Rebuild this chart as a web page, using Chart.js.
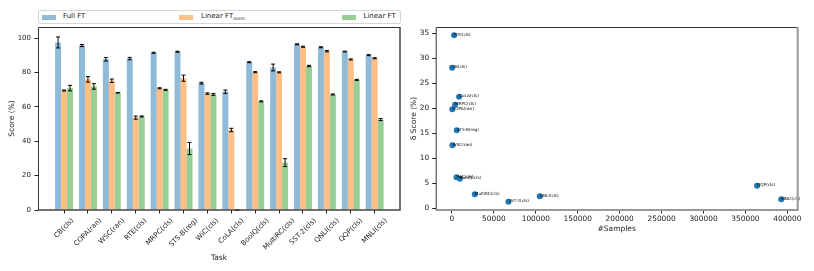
<!DOCTYPE html>
<html><head><meta charset="utf-8">
<script src="https://cdn.jsdelivr.net/npm/chart.js@4.4.0/dist/chart.umd.min.js"></script>
<style>
html,body{margin:0;padding:0;background:#fff;width:814px;height:271px;overflow:hidden;font-family:"DejaVu Sans",sans-serif;}
#wrapL{position:absolute;left:0;top:0;width:410px;height:271px;}
#wrapR{position:absolute;left:405px;top:0;width:409px;height:271px;}
#legend{position:absolute;left:38px;top:10px;width:361px;height:12px;border:1px solid #d6d6d6;border-radius:2px;background:#fff;font-size:7px;color:#222;}
.sw{position:absolute;top:3.5px;width:14px;height:5px;}
.lt{position:absolute;top:1px;line-height:9px;white-space:nowrap;}
.lt sub{font-size:4.5px;vertical-align:-1.5px;line-height:0;}
</style></head><body>
<div id="wrapL"><canvas id="cL" width="410" height="271"></canvas></div>
<div id="wrapR"><canvas id="cR" width="409" height="271"></canvas></div>
<div id="legend">
  <div class="sw" style="left:3px;background:rgba(31,119,180,0.5)"></div><div class="lt" style="left:24px">Full FT</div>
  <div class="sw" style="left:140px;background:rgba(255,127,14,0.5)"></div><div class="lt" style="left:162px">Linear FT<sub>norm</sub></div>
  <div class="sw" style="left:303px;background:rgba(44,160,44,0.5)"></div><div class="lt" style="left:324.5px">Linear FT</div>
</div>
<script>
// ---- Left chart data ----
const tasks = ['CB(cls)','COPA(ran)','WSC(ran)','RTE(cls)','MRPC(cls)','STS-B(reg)','WiC(cls)','CoLA(cls)','BoolQ(cls)','MultiRC(cls)','SST-2(cls)','QNLI(cls)','QQP(cls)','MNLI(cls)'];
const fullFT  = [97.6, 95.8, 87.8, 88.2, 91.6, 92.2, 73.9, 68.9, 86.1, 83.0, 96.5, 94.8, 92.3, 90.2];
const fullErr = [3.2, 0.6, 1.0, 0.7, 0.3, 0.3, 0.5, 1.0, 0.3, 2.0, 0.3, 0.3, 0.2, 0.3];
const linNorm = [69.6, 76.1, 75.3, 53.8, 70.9, 76.8, 67.8, 46.6, 80.3, 80.2, 95.1, 92.5, 87.7, 88.4];
const normErr = [0.3, 1.6, 1.0, 0.9, 0.3, 1.8, 0.4, 1.0, 0.3, 0.3, 0.3, 0.4, 0.3, 0.3];
const linFT   = [71.0, 72.0, 68.3, 54.5, 70.0, 35.8, 67.3, 0.0, 63.3, 27.6, 83.9, 67.3, 75.8, 52.7];
const linErr  = [1.6, 1.6, 0.2, 0.3, 0.3, 3.5, 0.5, 0.2, 0.3, 2.3, 0.4, 0.3, 0.3, 0.6];
const yTicksL = [0, 20, 40, 60, 80, 100];
// ---- Right chart data ----
const scNames   = ['RTE(cls)','CB(cls)','CoLA(cls)','MRPC(cls)','COPA(ran)','STS-B(reg)','WSC(ran)','WiC(cls)','BoolQ(cls)','MultiRC(cls)','SST-2(cls)','QNLI(cls)','QQP(cls)','MNLI(cls)'];
const scSamples = [2490, 250, 8551, 3668, 400, 5749, 554, 5428, 9427, 27243, 67349, 104743, 363846, 392702];
const scDelta   = [34.6, 28.1, 22.3, 20.7, 19.8, 15.6, 12.6, 6.2, 5.9, 2.8, 1.3, 2.4, 4.5, 1.8];
const xTicksR = [0, 50000, 100000, 150000, 200000, 250000, 300000, 350000, 400000];
const yTicksR = [0, 5, 10, 15, 20, 25, 30, 35];

Chart.defaults.font.family = '"DejaVu Sans", sans-serif';
Chart.defaults.color = '#222';

function framePlugin(colsTL, colsBR, wBR){
  return {id:'frame', afterDraw(chart){
    const a = chart.chartArea, ctx = chart.ctx;
    ctx.save();
    ctx.lineWidth = 1; ctx.strokeStyle = colsTL;
    ctx.beginPath();
    ctx.moveTo(a.left+0.5, a.bottom); ctx.lineTo(a.left+0.5, a.top+0.5); ctx.lineTo(a.right, a.top+0.5);
    ctx.stroke();
    ctx.lineWidth = wBR; ctx.strokeStyle = colsBR;
    ctx.beginPath();
    ctx.moveTo(a.right, a.top); ctx.lineTo(a.right, a.bottom); ctx.lineTo(a.left, a.bottom);
    ctx.stroke();
    ctx.restore();
  }};
}

const errPlugin = {id:'err', afterDatasetsDraw(chart){
  const ctx = chart.ctx, ys = chart.scales.y;
  const vals = [fullFT, linNorm, linFT], errs = [fullErr, normErr, linErr];
  ctx.save(); ctx.strokeStyle = '#000'; ctx.lineWidth = 1;
  chart.data.datasets.forEach((ds, d) => {
    chart.getDatasetMeta(d).data.forEach((bar, i) => {
      const x = bar.x, v = vals[d][i], e = errs[d][i];
      const y1 = ys.getPixelForValue(v - e), y2 = ys.getPixelForValue(v + e);
      ctx.beginPath();
      ctx.moveTo(x, y1); ctx.lineTo(x, y2);
      ctx.moveTo(x-2, y1); ctx.lineTo(x+2, y1);
      ctx.moveTo(x-2, y2); ctx.lineTo(x+2, y2);
      ctx.stroke();
    });
  });
  ctx.restore();
}};

const xLabelPlugin = {id:'xlabels', afterDraw(chart){
  const ctx = chart.ctx, xs = chart.scales.x, ys = chart.scales.y;
  ctx.save();
  ctx.font = '7px "DejaVu Sans"';
  ctx.fillStyle = '#222';
  ctx.textAlign = 'right'; ctx.textBaseline = 'top';
  const h = 7, y0 = ys.bottom + 7;
  tasks.forEach((t, i) => {
    const L = ctx.measureText(t).width;
    const x = xs.getPixelForValue(i) + 0.3536 * (L - h);
    ctx.save(); ctx.translate(x, y0); ctx.rotate(-Math.PI/4); ctx.fillText(t, 0, 0); ctx.restore();
  });
  ctx.restore();
}};

const tickGrid = {display:true, drawOnChartArea:false, drawTicks:true, tickLength:3.5, color:'#222', lineWidth:1, offset:false};
function noPad(s){ s.paddingLeft = 0; s.paddingRight = 0; s.paddingTop = 0; s.paddingBottom = 0; }

new Chart(document.getElementById('cL'), {
  type: 'bar',
  data: {datasets: [
    {label:'Full FT', data: fullFT.map((v,i)=>({x:i, y:v})), backgroundColor:'rgba(31,119,180,0.5)'},
    {label:'Linear FT norm', data: linNorm.map((v,i)=>({x:i, y:v})), backgroundColor:'rgba(255,127,14,0.5)'},
    {label:'Linear FT', data: linFT.map((v,i)=>({x:i, y:v})), backgroundColor:'rgba(44,160,44,0.5)'}
  ]},
  options: {
    responsive:false, animation:false, devicePixelRatio:1,
    layout:{padding:{left:0, right:10, top:27, bottom:0}},
    datasets:{bar:{categoryPercentage:0.75, barPercentage:1.0, borderWidth:0}},
    plugins:{legend:{display:false}, tooltip:{enabled:false}},
    scales:{
      x:{type:'linear', min:-1.09, max:14.06, offset:false,
         afterBuildTicks:s=>{s.ticks = tasks.map((t,i)=>({value:i}));},
         afterFit:s=>{s.height = 61; noPad(s);},
         grid:tickGrid, border:{display:false},
         ticks:{display:false},
         title:{display:true, text:'Task', font:{size:7.5}, color:'#222', padding:{top:0, bottom:8.8}}},
      y:{min:0, max:106.6,
         afterBuildTicks:s=>{s.ticks = yTicksL.map(v=>({value:v}));},
         afterFit:s=>{s.width = 38; noPad(s);},
         grid:tickGrid, border:{display:false},
         ticks:{font:{size:7}, color:'#222', padding:3.5},
         title:{display:true, text:'Score (%)', font:{size:7.5}, color:'#222', padding:{top:7.5, bottom:0}}}
    }
  },
  plugins:[errPlugin, framePlugin('#333', '#444', 1.5), xLabelPlugin]
});

const scLabelPlugin = {id:'sclabels', afterDatasetsDraw(chart){
  const ctx = chart.ctx;
  ctx.save();
  ctx.font = '4.2px "DejaVu Sans"'; ctx.fillStyle = '#000';
  ctx.textAlign = 'left'; ctx.textBaseline = 'alphabetic';
  chart.getDatasetMeta(0).data.forEach((p, i) => ctx.fillText(scNames[i], p.x, p.y + 0.5));
  ctx.restore();
}};

new Chart(document.getElementById('cR'), {
  type: 'scatter',
  data: {datasets: [{label:'delta', data: scSamples.map((s,i)=>({x:s, y:scDelta[i]})),
    backgroundColor:'#1f77b4', borderWidth:0, pointRadius:3, pointStyle:'circle'}]},
  options: {
    responsive:false, animation:false, devicePixelRatio:1,
    layout:{padding:{left:0, right:16.3, top:27, bottom:0}},
    plugins:{legend:{display:false}, tooltip:{enabled:false}},
    scales:{
      x:{type:'linear', min:-19372, max:412324,
         afterBuildTicks:s=>{s.ticks = xTicksR.map(v=>({value:v}));},
         afterFit:s=>{s.height = 61; noPad(s);},
         grid:tickGrid, border:{display:false},
         ticks:{font:{size:7.4}, color:'#222', padding:1, maxRotation:0, autoSkip:false, callback:v=>String(v)},
         title:{display:true, text:'#Samples', font:{size:7.5}, color:'#222', padding:{top:0, bottom:37.5}}},
      y:{min:-0.37, max:36.27,
         afterBuildTicks:s=>{s.ticks = yTicksR.map(v=>({value:v}));},
         afterFit:s=>{s.width = 30.7; noPad(s);},
         grid:tickGrid, border:{display:false},
         ticks:{font:{size:7.4}, color:'#222', padding:3, callback:v=>String(v)},
         title:{display:true, text:'δ Score (%)', font:{size:7.5}, color:'#222', padding:{top:4.5, bottom:0}}}
    }
  },
  plugins:[framePlugin('#333', '#999', 2), scLabelPlugin]
});
</script>
</body></html>
